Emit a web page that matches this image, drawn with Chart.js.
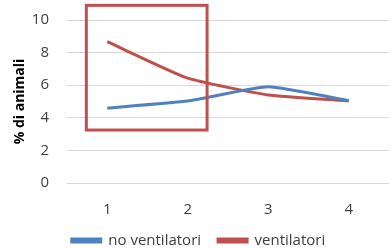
<!DOCTYPE html>
<html>
<head>
<meta charset="utf-8">
<script src="https://cdn.jsdelivr.net/npm/chart.js@4/dist/chart.umd.min.js"></script>
<style>
  html, body { margin: 0; padding: 0; background: #fff; }
  #wrap { width: 391px; height: 249px; }
</style>
</head>
<body>
<div id="wrap"><canvas id="chart"></canvas></div>
<script>
const categories = ['1', '2', '3', '4'];
const noVentilatori = [4.6, 5.03, 5.9, 5.05];
const ventilatori = [8.67, 6.43, 5.4, 5.04];
const yTicks = [0, 2, 4, 6, 8, 10];
// highlight box, in data units (category index / % value)
const boxX = [-0.26, 1.24];
const boxY = [3.25, 10.9];

const blue = '#4F81BD';
const red = '#C0504D';
const font = "'Open Sans', 'Liberation Sans', sans-serif";

const highlightBox = {
  id: 'highlightBox',
  afterDraw(chart) {
    const { ctx, scales: { x, y } } = chart;
    const left = x.getPixelForValue(boxX[0]);
    const right = x.getPixelForValue(boxX[1]);
    const top = y.getPixelForValue(boxY[1]);
    const bottom = y.getPixelForValue(boxY[0]);
    ctx.save();
    ctx.strokeStyle = red;
    ctx.lineWidth = 3;
    ctx.strokeRect(left, top, right - left, bottom - top);
    ctx.restore();
  }
};

const chart = new Chart(document.getElementById('chart'), {
  type: 'line',
  data: {
    labels: categories,
    datasets: [
      { label: 'no ventilatori', data: noVentilatori, borderColor: blue, backgroundColor: blue,
        borderWidth: 3, pointRadius: 0, tension: 0.15 },
      { label: 'ventilatori', data: ventilatori, borderColor: red, backgroundColor: red,
        borderWidth: 3, pointRadius: 0, tension: 0.15 },
    ],
  },
  options: {
    responsive: true,
    maintainAspectRatio: false,
    animation: false,
    layout: { padding: { top: 20, right: 2, left: 8, bottom: 0 } },
    plugins: {
      tooltip: { enabled: false },
      legend: {
        position: 'bottom',
        labels: {
          color: '#404040',
          font: { family: font, size: 15 },
          boxWidth: 29,
          boxHeight: 3,
          padding: 17,
        },
      },
    },
    scales: {
      x: {
        offset: true,
        grid: { display: false },
        border: { display: false },
        afterFit: (s) => { s.height = 33; },
        ticks: { color: '#404040', font: { family: font, size: 15 }, padding: 10 },
      },
      y: {
        min: 0,
        max: 10,
        afterBuildTicks: (s) => { s.ticks = yTicks.map(v => ({ value: v })); },
        afterFit: (s) => { s.width = 59; s.paddingTop = 0; s.paddingBottom = 0; },
        grid: { color: '#D9D9D9', lineWidth: 1, drawTicks: false },
        border: { display: false },
        ticks: { color: '#404040', font: { family: font, size: 15 }, padding: 18 },
        title: {
          display: true,
          text: '% di animali',
          color: '#000',
          font: { family: font, size: 14, weight: 'bold' },
          padding: { top: 4, bottom: 3 },
        },
      },
    },
  },
  plugins: [highlightBox],
});

// fixed legend height so the row sits close to the bottom edge
const legendFit = chart.legend.fit;
chart.legend.fit = function () {
  legendFit.call(this);
  this.height = 33;
  this.minSize = { width: this.width, height: 33 };
};
chart.update();
</script>
</body>
</html>
